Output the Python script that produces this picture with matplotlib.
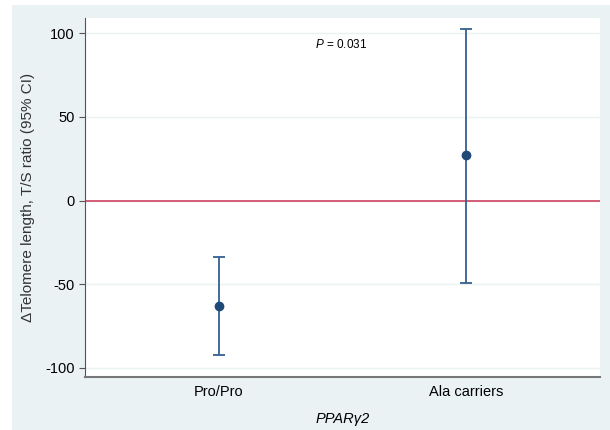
import matplotlib.pyplot as plt

plt.rcParams['font.family'] = ['Liberation Sans', 'DejaVu Sans']
plt.rcParams['mathtext.fontset'] = 'custom'
plt.rcParams['mathtext.rm'] = 'Liberation Sans'
plt.rcParams['mathtext.it'] = 'Liberation Sans:italic'

groups = ['Pro/Pro', 'Ala carriers']
means = [-62.7, 27.0]
ci_low = [-92.5, -49.0]
ci_high = [-34.0, 102.7]
yticks = [-100, -50, 0, 50, 100]

bg = '#eaf2f3'
fig = plt.figure(figsize=(6.1, 4.3), dpi=100)
fig.patch.set_facecolor('white')
# light panel behind the whole graph
panel = plt.Rectangle((12 / 610, 0), 1, 1 - 5 / 430, transform=fig.transFigure,
                      facecolor=bg, edgecolor='none', zorder=-10)
fig.add_artist(panel)
ax = fig.add_axes([85 / 610, 1 - 377 / 430, 515 / 610, 359 / 430])
ax.set_facecolor('white')

xs = [1, 2]
yerr = [[m - lo for m, lo in zip(means, ci_low)], [hi - m for m, hi in zip(means, ci_high)]]
ax.errorbar(xs, means, yerr=yerr, fmt='o', color='#1f4a78', ecolor='#34608f',
            elinewidth=1.3, capsize=4, capthick=1.3, markersize=6, zorder=3)
ax.axhline(0, color='#d2506c', lw=1.3, zorder=2)

ax.set_xlim(0.46, 2.54)
ax.set_ylim(-105.4, 109)
ax.set_yticks(yticks)
ax.set_yticklabels([str(t) for t in yticks])
ax.set_xticks(xs)
ax.set_xticklabels(groups)
ax.yaxis.grid(True, color=bg, lw=1)
ax.set_axisbelow(True)
ax.tick_params(axis='y', labelsize=10.5, color='#555555', length=4)
ax.tick_params(axis='x', labelsize=10.5, length=0, pad=6)
for s in ['top', 'right']:
    ax.spines[s].set_visible(False)
ax.spines['left'].set_color('#555555')
ax.spines['bottom'].set_color('#777777')
ax.spines['bottom'].set_linewidth(1.5)

ax.set_ylabel('\u0394Telomere length, T/S ratio (95% CI)', fontsize=11, color='#333333', labelpad=7)
ax.set_xlabel('PPAR\u03b32', fontsize=10.5, style='italic', labelpad=9)
ax.text(1.39, 93, r'$P$ = 0.031', fontsize=8.5, va='center', ha='left')

fig.savefig('out.png', dpi=100, facecolor=fig.get_facecolor())
